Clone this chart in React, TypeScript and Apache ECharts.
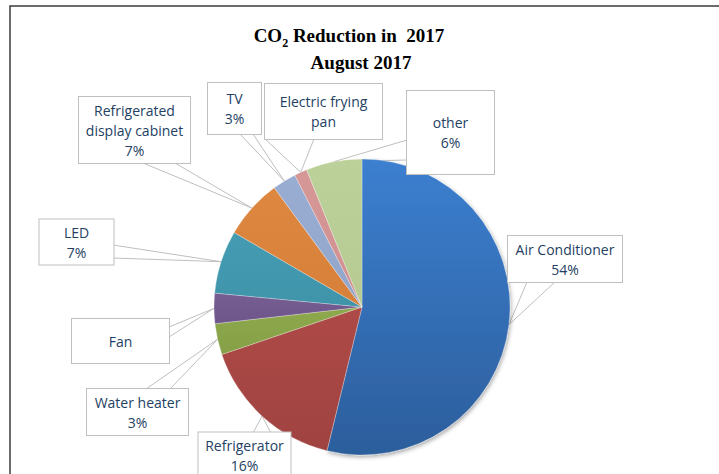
import React, { useEffect, useRef } from 'react';
import * as echarts from 'echarts';

// ---- data ----
const categories = [
  'Air Conditioner',
  'Refrigerator',
  'Water heater',
  'Fan',
  'LED',
  'Refrigerated display cabinet',
  'TV',
  'Electric frying pan',
  'other',
];
const shares = [53.8, 16.0, 3.4, 3.3, 6.9, 6.5, 2.6, 1.4, 6.1];

// ---- styles ----
const sliceColors: [string, string][] = [
  ['#3c7fd0', '#2c5e9c'],
  ['#ae4a47', '#9f4341'],
  ['#8ea84d', '#86a047'],
  ['#765d93', '#6e5689'],
  ['#459cb2', '#3f94aa'],
  ['#dd8740', '#d68039'],
  ['#99acd2', '#92a6cc'],
  ['#d69797', '#d09090'],
  ['#bcd09a', '#b6ca92'],
];

// label callout layout: box centre, width, vertical padding, text lines, whether % shown, wedge base points
const labelBoxes = [
  { cx: 565, cy: 259, w: 114, pt: 3, pb: 3, lines: ['Air Conditioner'], pct: true, base: [[527, 282], [555, 282]] },
  { cx: 244.5, cy: 455.5, w: 92, pt: 3, pb: 3, lines: ['Refrigerator'], pct: true, base: [[253, 433], [271, 433]] },
  { cx: 137.5, cy: 412, w: 101, pt: 3, pb: 3, lines: ['Water heater'], pct: true, base: [[146, 389], [170, 389]] },
  { cx: 120.5, cy: 341, w: 97, pt: 12, pb: 12, lines: ['Fan'], pct: false, base: [[169, 327], [169, 337]] },
  { cx: 76.5, cy: 242, w: 74, pt: 2.5, pb: 2.5, lines: ['LED'], pct: true, base: [[113, 245], [113, 258]] },
  { cx: 134.5, cy: 130, w: 111, pt: 3, pb: 3, lines: ['Refrigerated', 'display cabinet'], pct: true, base: [[143, 163], [175, 163]] },
  { cx: 234.5, cy: 108.5, w: 53, pt: 5.5, pb: 5.5, lines: ['TV'], pct: true, base: [[240, 134], [253, 134]] },
  { cx: 323.5, cy: 111.5, w: 117, pt: 4, pb: 11, lines: ['Electric frying', 'pan'], pct: false, base: [[265, 139], [314, 139]] },
  { cx: 450.5, cy: 132.5, w: 87, pt: 21.5, pb: 21.5, lines: ['other'], pct: true, base: [[407, 140], [407, 160]] },
];

const LABEL_FONT = '"Open Sans", "Noto Sans", sans-serif';
const SERIF = '"Liberation Serif", "Times New Roman", serif';
const TEXT_COLOR = '#243f63';

const PIE_CX = 362;
const PIE_CY = 307;
const PIE_R = 148;

export default function App() {
  const ref = useRef<HTMLDivElement>(null);

  useEffect(() => {
    if (!ref.current) return;
    const chart = echarts.init(ref.current, null, { renderer: 'svg' });
    const total = shares.reduce((a, b) => a + b, 0);
    const tipFor = (i: number) => {
      let acc = 0;
      for (let j = 0; j < i; j++) acc += shares[j];
      const mid = ((acc + shares[i] / 2) / total) * 2 * Math.PI;
      return [PIE_CX + PIE_R * Math.sin(mid), PIE_CY - PIE_R * Math.cos(mid)];
    };

    chart.setOption({
      animation: false,
      backgroundColor: '#ffffff',
      graphic: [
        {
          type: 'rect',
          silent: true,
          z: -10,
          shape: { x: 10, y: 6, width: 760, height: 520 },
          style: { fill: 'none', stroke: '#3c3c3c', lineWidth: 1.5 },
        },
        {
          type: 'text',
          silent: true,
          x: 349,
          y: 22.6,
          style: {
            text: '{a|CO}{s|2}{a| Reduction in  2017}',
            rich: {
              a: { fontFamily: SERIF, fontWeight: 'bold', fontSize: 19, lineHeight: 26, fill: '#000' },
              s: { fontFamily: SERIF, fontWeight: 'bold', fontSize: 12, verticalAlign: 'bottom', fill: '#000' },
            },
            textAlign: 'center',
            textVerticalAlign: 'top',
          },
        },
        {
          type: 'text',
          silent: true,
          x: 361,
          y: 62,
          style: {
            text: 'August 2017',
            font: `bold 19px ${SERIF}`,
            fill: '#000',
            textAlign: 'center',
            textVerticalAlign: 'middle',
          },
        },
      ],
      series: [
        {
          type: 'pie',
          center: [PIE_CX, PIE_CY],
          radius: PIE_R,
          startAngle: 90,
          clockwise: true,
          avoidLabelOverlap: false,
          percentPrecision: 0,
          data: categories.map((name, i) => ({
            name,
            value: shares[i],
            itemStyle: {
              color: {
                type: 'linear',
                x: 0,
                y: 0,
                x2: 0,
                y2: 1,
                colorStops: [
                  { offset: 0, color: sliceColors[i][0] },
                  { offset: 1, color: sliceColors[i][1] },
                ],
              },
              ...(i === 0
                ? { shadowBlur: 4, shadowColor: 'rgba(0,0,0,0.35)', shadowOffsetX: 1, shadowOffsetY: 2 }
                : {}),
            },
            label: {
              width: labelBoxes[i].w,
              padding: [labelBoxes[i].pt, 0, labelBoxes[i].pb, 0],
            },
          })),
          itemStyle: { borderColor: 'rgba(255,255,255,0.45)', borderWidth: 0.6 },
          label: {
            show: true,
            position: 'outside',
            overflow: 'none',
            formatter: (p: any) => {
              const b = labelBoxes[p.dataIndex];
              return b.lines.join('\n') + (b.pct ? `\n${p.percent}%` : '');
            },
            color: TEXT_COLOR,
            fontFamily: LABEL_FONT,
            fontSize: 14,
            lineHeight: 20,
            align: 'center',
            backgroundColor: '#ffffff',
            borderColor: '#bfbfbf',
            borderWidth: 1,
          },
          labelLine: {
            show: true,
            length: 10,
            length2: 10,
            lineStyle: { color: '#bfbfbf', width: 1 },
          },
          labelLayout: (p: any) => {
            const b = labelBoxes[p.dataIndex];
            const tip = tipFor(p.dataIndex);
            return {
              x: b.cx,
              y: b.cy,
              align: 'center',
              verticalAlign: 'middle',
              width: b.w,
              labelLinePoints: [b.base[0], tip, b.base[1]],
            };
          },
        },
      ],
    });
    return () => chart.dispose();
  }, []);

  return (
    <div
      ref={ref}
      style={{ position: 'fixed', left: 0, top: 0, width: 719, height: 474, background: '#fff' }}
    />
  );
}
